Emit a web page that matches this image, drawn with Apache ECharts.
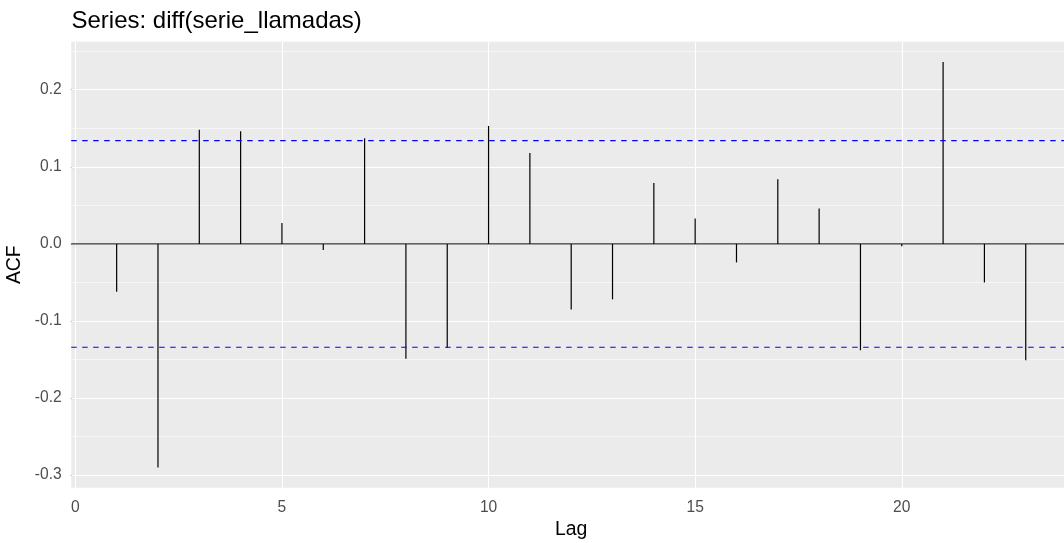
<!DOCTYPE html>
<html>
<head>
<meta charset="utf-8">
<script src="https://cdn.jsdelivr.net/npm/echarts@6/dist/echarts.min.js"></script>
<style>
html,body{margin:0;padding:0;background:#fff;}
#chart{width:1064px;height:543px;}
</style>
</head>
<body>
<div id="chart"></div>
<script>
// ---- data ----
var lags = [1,2,3,4,5,6,7,8,9,10,11,12,13,14,15,16,17,18,19,20,21,22,23];
var acfValues = [-0.062,-0.290,0.148,0.146,0.027,-0.008,0.137,-0.149,-0.135,0.153,0.118,-0.085,-0.072,0.079,0.033,-0.024,0.084,0.046,-0.138,-0.003,0.236,-0.050,-0.151];
var ciBound = 0.134;
var xTicks = [0,5,10,15,20];
var yTicks = [-0.3,-0.2,-0.1,0.0,0.1,0.2];
var yMinorTicks = [-0.25,-0.15,-0.05,0.05,0.15,0.25];

var X_MIN = -0.1, X_MAX = 24.1, Y_MIN = -0.3163, Y_MAX = 0.2623;
var FONT = "'Liberation Sans', Arial, sans-serif";
var chart = echarts.init(document.getElementById('chart'), null, {renderer:'canvas'});

function lineItems(axis, vals){ return vals.map(function(v){ var o={}; o[axis]=v; return o; }); }
var mlBase = {symbol:['none','none'], silent:true, animation:false, precision:6, label:{show:false}, emphasis:{disabled:true}};

function hLine(name, y, style, z){
  return {
    name:name, type:'line', z:z, silent:true, symbol:'none', showSymbol:false,
    clip:true, animation:false,
    lineStyle:style, itemStyle:{color:style.color},
    emphasis:{disabled:true},
    data:[[X_MIN, y],[X_MAX, y]]
  };
}
var ciStyle = {color:'#0000FF', width:1.1, type:[5.5,5.5], opacity:1};

var option = {
  animation:false,
  backgroundColor:'#ffffff',
  title:{
    text:'Series: diff(serie_llamadas)',
    left:66.5, top:4.7,
    textStyle:{fontFamily:FONT, fontSize:24, fontWeight:'normal', color:'#000000'}
  },
  grid:{
    left:71.2, right:-7.2, top:41.7, bottom:55.3,
    show:true, backgroundColor:'#EBEBEB', borderWidth:0,
    containLabel:false, outerBoundsMode:'none'
  },
  xAxis:{
    type:'value', min:X_MIN, max:X_MAX,
    name:'Lag', nameLocation:'middle', nameGap:32.6,
    nameTextStyle:{fontFamily:FONT, fontSize:19.4, color:'#000000'},
    axisLine:{show:false},
    axisTick:{show:true, length:4.5, customValues:xTicks, lineStyle:{color:'#333333', width:1.07}},
    axisLabel:{show:true, margin:12, customValues:xTicks, fontFamily:FONT, fontSize:15.6, color:'#4D4D4D',
      formatter:function(v){return String(v);}},
    splitLine:{show:false}, minorSplitLine:{show:false}
  },
  yAxis:{
    type:'value', min:Y_MIN, max:Y_MAX,
    name:'ACF', nameLocation:'middle', nameGap:41.8,
    nameTextStyle:{fontFamily:FONT, fontSize:19.4, color:'#000000'},
    axisLine:{show:false},
    axisTick:{show:true, length:4.5, customValues:yTicks, lineStyle:{color:'#333333', width:1.07}},
    axisLabel:{show:true, margin:9.5, customValues:yTicks, fontFamily:FONT, fontSize:15.6, color:'#4D4D4D',
      formatter:function(v){return Number(v).toFixed(1);}},
    splitLine:{show:false}, minorSplitLine:{show:false}
  },
  series:[
    {
      name:'gridMinor', type:'line', data:[], silent:true, z:1,
      markLine:Object.assign({}, mlBase, {z:1, lineStyle:{color:'#ffffff', width:0.55, type:'solid'},
        data:lineItems('yAxis', yMinorTicks)})
    },
    {
      name:'gridMajor', type:'line', data:[], silent:true, z:1,
      markLine:Object.assign({}, mlBase, {z:1, lineStyle:{color:'#ffffff', width:1.1, type:'solid'},
        data:lineItems('yAxis', yTicks).concat(lineItems('xAxis', xTicks))})
    },
    hLine('zero', 0, {color:'#333333', width:1.07, type:'solid'}, 2),
    {
      name:'ACF', type:'bar', z:3, silent:true,
      barWidth:1.2,
      itemStyle:{color:'#000000'},
      data:lags.map(function(l,i){return [l, acfValues[i]];})
    },
    hLine('ciUpper', ciBound, ciStyle, 4),
    hLine('ciLower', -ciBound, ciStyle, 4)
  ]
};
chart.setOption(option);
</script>
</body>
</html>
